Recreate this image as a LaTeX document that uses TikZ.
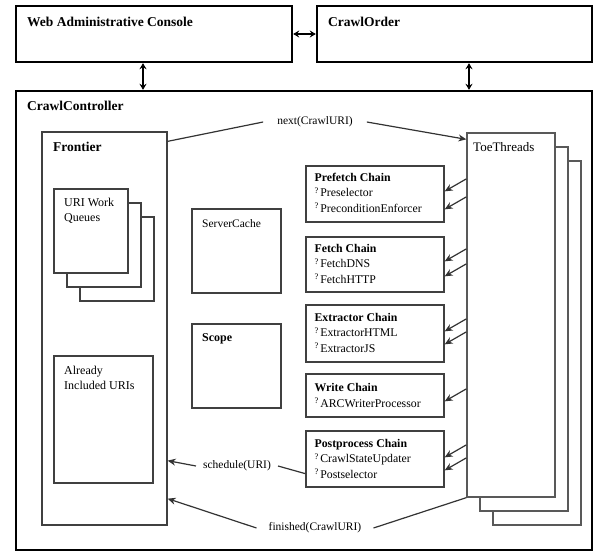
\documentclass[tikz,border=0pt]{standalone}
\usepackage{fontspec}
\setmainfont{Liberation Serif}
\usetikzlibrary{calc,fit,arrows.meta}

\tikzset{
	outer/.style={draw=black, line width=2.4pt, inner sep=0pt},
	inner/.style={draw=black!75, line width=1.3pt, inner sep=0pt, fill=white},
	head/.style={anchor=base west, inner sep=0pt, font={\fontsize{13.5}{15}\selectfont\bfseries}},
	txt/.style={anchor=base west, inner sep=0pt, align=left, font={\fontsize{12}{15}\selectfont}},
	chain/.style={anchor=base west, inner sep=0pt, align=left, font={\fontsize{11.8}{15.5}\selectfont}},
	call/.style={font={\fontsize{11.5}{13}\selectfont}, inner xsep=14pt, inner ysep=2pt},
	feed/.style={-{Stealth[length=8pt,width=7pt]}, line width=1.2pt, draw=black!80},
	wire/.style={line width=1.2pt, draw=black!80},
	link/.style={{Stealth[length=6pt,width=7pt]}-{Stealth[length=6pt,width=7pt]}, line width=1.6pt},
}
\newcommand{\itm}{\raisebox{3.5pt}{\fontsize{8.5}{8.5}\selectfont ?}\,}

\begin{document}
\begin{tikzpicture}[x=1pt,y=-1pt]
\useasboundingbox (0,0) rectangle (597,552);

\node[outer, fit={(16,6) (292,62)}] (wac) {};
\node[outer, fit={(317,6) (592,62)}] (order) {};
\node[outer, fit={(16,91) (592,550)}] (ctrl) {};
\node[head] at (27,26) {Web Administrative Console};
\node[head] at (328,26) {CrawlOrder};
\node[head] at (27,110) {CrawlController};

\draw[link] (wac.east) -- (order.west);
\draw[link] ([xshift=-11pt]wac.south) -- ([xshift=-11pt]wac.south |- ctrl.north);
\draw[link] ([xshift=14.5pt]order.south) -- ([xshift=14.5pt]order.south |- ctrl.north);

\node[inner, fit={(42,132) (167,525)}] (frontier) {};
\node[head] at (53,151) {Frontier};
\foreach \i in {3,2,1}{
	\node[inner, fit={({41+13*\i},{175+14*\i}) ({115+13*\i},{259+14*\i})}] (queue\i) {};
}
\node[txt] at (64,221) {URI Work\\Queues};
\node[inner, fit={(54,356) (153,483)}] (included) {};
\node[txt] at (64,389) {Already\\Included URIs};

\node[inner, fit={(192,209) (281,293)}] (cache) {};
\node[txt, font={\fontsize{11.5}{14}\selectfont}] at (202,227) {ServerCache};
\node[inner, fit={(192,324) (281,408)}] (scope) {};
\node[head, font={\fontsize{12}{14}\selectfont\bfseries}] at (202,341) {Scope};

\foreach \i in {3,2,1}{
	\node[inner, draw=black!65, fit={({454+13*\i},{119+14*\i}) ({542+13*\i},{483+14*\i})}] (toe\i) {};
}
\node[txt, font={\fontsize{13}{15}\selectfont}] at (473,151) {ToeThreads};

\foreach \n/\t/\b in {pre/166/222, fetch/237/292, ext/305/362, write/374/417, post/431/487}{
	\node[inner, fit={(306,\t) (444,\b)}] (\n) {};
}
\node[chain] at ($(pre.north west)+(9,47)$) {\textbf{Prefetch Chain}\\\itm Preselector\\\itm PreconditionEnforcer};
\node[chain] at ($(fetch.north west)+(9,47)$) {\textbf{Fetch Chain}\\\itm FetchDNS\\\itm FetchHTTP};
\node[chain] at ($(ext.north west)+(9,48)$) {\textbf{Extractor Chain}\\\itm ExtractorHTML\\\itm ExtractorJS};
\node[chain] at ($(write.north west)+(9,34)$) {\textbf{Write Chain}\\\itm ARCWriterProcessor};
\node[chain] at ($(post.north west)+(9,48)$) {\textbf{Postprocess Chain}\\\itm CrawlStateUpdater\\\itm Postselector};

\foreach \n/\d in {pre/26, pre/44, fetch/25, fetch/40, ext/27, ext/40, write/28, post/27, post/40}{
	\coordinate (e) at ($(\n.north east)+(0,\d)$);
	\coordinate (s) at ($(e)+(0,-12.5)$);
	\draw[feed] (toe1.west |- s) -- (e);
}

\node[call] (next) at (315,122) {next(CrawlURI)};
\draw[wire] ($(frontier.north east)+(0,10)$) -- (next.west);
\draw[feed] (next.east) -- ($(toe1.north west)+(0,7)$);

\node[call, inner xsep=7pt] (sched) at (237,466) {schedule(URI)};
\draw[feed] (sched.west) -- ($(frontier.south east)+(0,-65)$);
\draw[wire] (sched.east) -- ($(post.south west)+(0,-14)$);

\node[call, inner xsep=12pt] (done) at (315,528) {finished(CrawlURI)};
\draw[wire] (done.east) -- (toe1.south west);
\draw[feed] (done.west) -- ($(frontier.south east)+(0,-27)$);

\end{tikzpicture}
\end{document}
